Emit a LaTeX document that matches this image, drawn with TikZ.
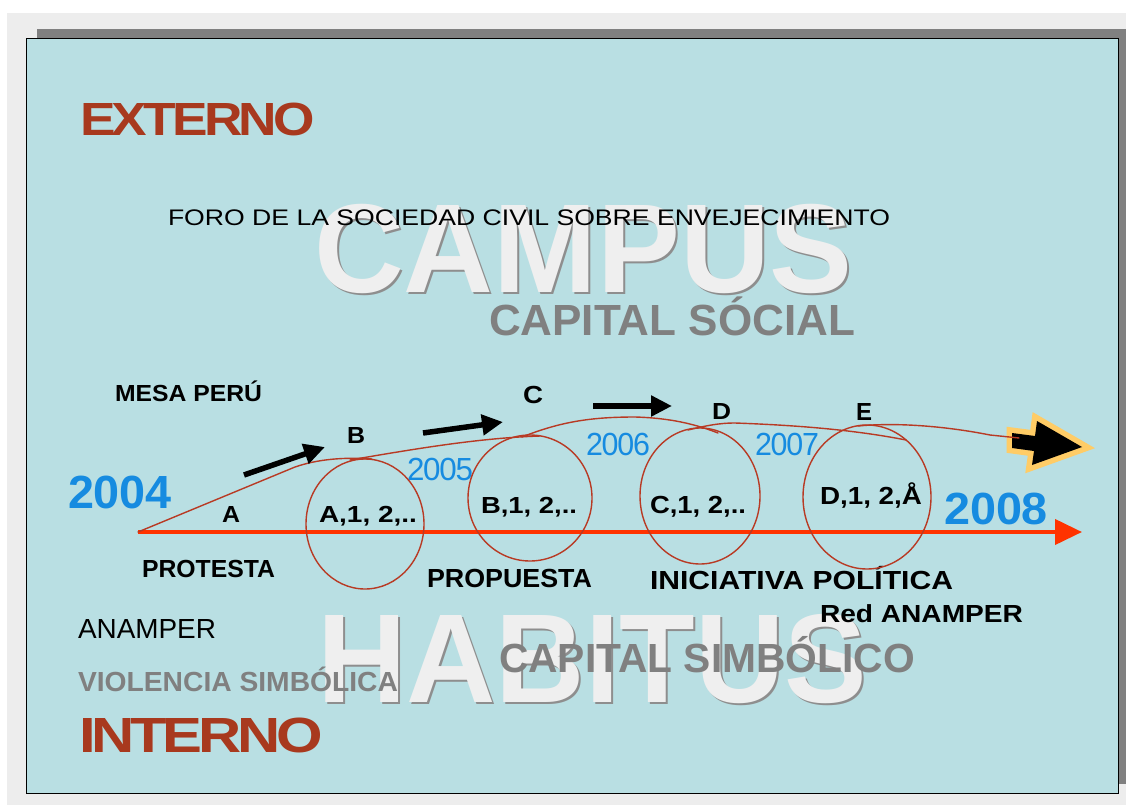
\documentclass[tikz,border=0pt]{standalone}
\usepackage{fontspec}
\setmainfont{Liberation Sans}
\newfontfamily\tightsans[LetterSpace=-7]{Liberation Sans}
\newfontfamily\semitight[LetterSpace=-4]{Liberation Sans}
\usepackage{graphicx}
\usetikzlibrary{arrows.meta}
\definecolor{pagegrey}{HTML}{EDEDED}
\definecolor{shadowgrey}{HTML}{808080}
\definecolor{panelfill}{HTML}{B9DFE3}
\definecolor{darkred}{HTML}{A8391E}
\definecolor{txtgrey}{HTML}{808080}
\definecolor{yearblue}{HTML}{168BE0}
\definecolor{ghostfill}{HTML}{EFEFEF}
\definecolor{ghostshadow}{HTML}{8E8E8E}
\definecolor{curvered}{HTML}{B83A24}
\definecolor{axisred}{HTML}{FF3300}
\definecolor{arrowgold}{HTML}{FFCC66}
\newsavebox\fitboxA
\newsavebox\fitboxB
\newcommand\fitt[3]{%
  \sbox\fitboxA{#3}\sbox\fitboxB{H}%
  \pgfmathsetmacro\fitsx{#1/\the\wd\fitboxA}%
  \pgfmathsetmacro\fitsy{#2/\the\ht\fitboxB}%
  \scalebox{\fitsx}[\fitsy]{\usebox\fitboxA}}
\tikzset{
  lbl/.style={anchor=base west, inner sep=0pt, outer sep=0pt},
  boldlbl/.style={lbl, font=\bfseries},
  blk/.style={boldlbl, text=black},
  gry/.style={boldlbl, text=txtgrey},
  redt/.style={lbl, font=\tightsans\bfseries, text=darkred},
  blu/.style={lbl, font=\semitight, text=yearblue},
  blub/.style={boldlbl, text=yearblue},
  ghost/.style={boldlbl, text=ghostfill},
  ghostsh/.style={boldlbl, text=ghostshadow},
  curve/.style={draw=curvered, line width=1.4pt, line cap=round},
  blkarrow/.style={draw=black, line width=5.5pt, -{Triangle[length=21pt,width=20pt]}},
  axisline/.style={draw=axisred, line width=4pt, -{Triangle[length=27pt,width=25pt]}},
}
\begin{document}
\begin{tikzpicture}[x=1pt, y=-1pt]
\useasboundingbox (0,0) rectangle (1126,805);
% background and panel
\fill[pagegrey] (7,13) rectangle (1126,805);
\fill[shadowgrey] (37,29) rectangle (1126,784);
\filldraw[fill=panelfill, draw=black, line width=0.8pt] (26,38) rectangle (1118,793);

% ghost words
\node[ghostsh] (campusS) at (316,294) {\fitt{539}{87}{CAMPUS}};
\node[ghost] (campus) at (314,292) {\fitt{539}{87}{CAMPUS}};
\node[ghostsh] (habitusS) at (319,704) {\fitt{550}{87}{HABITUS}};
\node[ghost] (habitus) at (317,702) {\fitt{550}{87}{HABITUS}};

% texts
\node[redt] (externo) at (80,136) {\fitt{235}{32}{EXTERNO}};
\node[redt] (interno) at (79,752) {\fitt{244}{34}{INTERNO}};
\node[lbl, text=black] (foro) at (168,225) {\fitt{722}{15.5}{FORO DE LA SOCIEDAD CIVIL SOBRE ENVEJECIMIENTO}};
\node[gry] (capsoc) at (489,335) {\fitt{366}{30}{CAPITAL SÓCIAL}};
\node[gry] (capsim) at (499,672) {\fitt{416}{28}{CAPITAL SIMBÓLICO}};
\node[gry] (violencia) at (78,691) {\fitt{320}{19}{VIOLENCIA SIMBÓLICA}};
\node[lbl, text=black] (anamper) at (78,638) {\fitt{138}{19}{ANAMPER}};
\node[blk] (redanamper) at (820,622) {\fitt{203}{17}{Red ANAMPER}};
\node[blk] (mesa) at (115,401) {\fitt{147}{16}{MESA PERÚ}};
\node[blk] (protesta) at (142,577) {\fitt{133}{17}{PROTESTA}};
\node[blk] (propuesta) at (427,587) {\fitt{165}{18}{PROPUESTA}};
\node[blk] (iniciativa) at (650,589) {\fitt{303}{18}{INICIATIVA POLÍTICA}};

\node[blk] (la) at (222,522) {\fitt{18}{16}{A}};
\node[blk] (lb) at (347,443) {\fitt{18}{16}{B}};
\node[blk] (lc) at (523,403) {\fitt{20}{17}{C}};
\node[blk] (ld) at (712,419) {\fitt{19}{16}{D}};
\node[blk] (le) at (856,420) {\fitt{16}{17}{E}};

\node[blk] (ca) at (319,522) {\fitt{98}{16}{A,1, 2,..}};
\node[blk] (cb) at (481,513) {\fitt{96}{16}{B,1, 2,..}};
\node[blk] (cc) at (650,513) {\fitt{96}{17}{C,1, 2,..}};
\node[blk] (cd) at (820,504) {\fitt{102}{17}{D,1, 2,Å}};

\node[blub] (y2004) at (68,508) {\fitt{104}{32}{2004}};
\node[blub] (y2008) at (944,524) {\fitt{104}{31}{2008}};
\node[blu] (y2005) at (407,480) {\fitt{66}{22}{2005}};
\node[blu] (y2006) at (586,455) {\fitt{64}{22}{2006}};
\node[blu] (y2007) at (755,455) {\fitt{64}{22}{2007}};

% timeline axis
\coordinate (axs) at (138,532);
\coordinate (axe) at (1082,532);
\draw[axisline] (axs) -- (axe);

% circles
\draw[curve] (365,524) ellipse [x radius=59, y radius=65];
\draw[curve] (530,498) ellipse [x radius=62, y radius=63];
\draw[curve] (700,496) ellipse [x radius=60, y radius=68];
\draw[curve] (867,497) ellipse [x radius=64, y radius=72];

% fancy arrow
\coordinate (fa1) at (1012,433);
\coordinate (fa2) at (1035,436);
\coordinate (fa3) at (1037,421);
\coordinate (fa4) at (1082,447);
\coordinate (fa5) at (1032,465);
\coordinate (fa6) at (1034,451);
\coordinate (fa7) at (1012,448);
\draw[arrowgold, line width=11pt, line join=miter, miter limit=10] (fa1) -- (fa2) -- (fa3) -- (fa4) -- (fa5) -- (fa6) -- (fa7) -- cycle;
\fill[black] (fa1) -- (fa2) -- (fa3) -- (fa4) -- (fa5) -- (fa6) -- (fa7) -- cycle;

% connecting curve
\coordinate (cend) at (1019,438);
\draw[curve] (axs) -- (295,467) .. controls (318,459) and (345,457) .. (372,459);
\draw[curve] (350,460) .. controls (420,448) and (480,438) .. (540,436);
\draw[curve] (522,437) .. controls (560,422) and (590,417) .. (635,417) .. controls (670,418) and (695,424) .. (718,433);
\draw[curve] (688,430) .. controls (705,426) and (718,423) .. (735,423) .. controls (790,425) and (850,429) .. (906,440);
\draw[curve] (858,426) .. controls (900,422) and (950,427) .. (990,435) -- (cend);

% black arrows
\coordinate (a1s) at (244,475); \coordinate (a1e) at (325,447);
\coordinate (a2s) at (423,433); \coordinate (a2e) at (503,422);
\coordinate (a3s) at (593,406); \coordinate (a3e) at (672,406);
\draw[blkarrow] (a1s) -- (a1e);
\draw[blkarrow] (a2s) -- (a2e);
\draw[blkarrow] (a3s) -- (a3e);
\end{tikzpicture}
\end{document}
